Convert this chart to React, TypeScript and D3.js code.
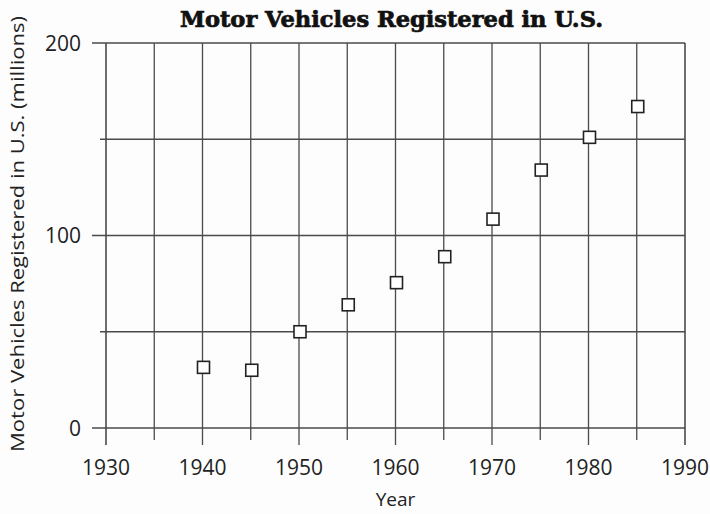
import React from "react";
import * as d3 from "d3";

const years = [1940, 1945, 1950, 1955, 1960, 1965, 1970, 1975, 1980, 1985];
const vehicles = [31.5, 30, 50, 64, 75.5, 89, 108.5, 134, 151, 167];
const xMajorTicks = [1930, 1940, 1950, 1960, 1970, 1980, 1990];
const xMinorTicks = [1935, 1945, 1955, 1965, 1975, 1985];
const yMajorTicks = [0, 100, 200];
const yMinorTicks = [50, 150];

export default function App() {
  const W = 710, H = 514;
  const left = 106, right = 685, top = 43, bottom = 428;
  const x = d3.scaleLinear().domain([1930, 1990]).range([left, right]);
  const y = d3.scaleLinear().domain([0, 200]).range([bottom, top]);
  const grid = "#4a4a4a";
  const font = "'Open Sans', 'Noto Sans', sans-serif";
  const sq = 12;
  return (
    <svg width={W} height={H} style={{ position: "absolute", left: 0, top: 0, background: "#fff" }}>
      <rect x={0} y={0} width={W} height={H} fill="#fdfdfd" />
      {/* vertical grid lines */}
      {xMinorTicks.map((t) => (
        <line key={"vm" + t} x1={x(t)} x2={x(t)} y1={top} y2={bottom + 12} stroke={grid} strokeWidth={1.3} />
      ))}
      {xMajorTicks.map((t) => (
        <line key={"vM" + t} x1={x(t)} x2={x(t)} y1={top} y2={bottom + 17} stroke={grid} strokeWidth={t === 1930 || t === 1990 ? 1.6 : 1.3} />
      ))}
      {/* horizontal grid lines */}
      {yMinorTicks.map((t) => (
        <line key={"hm" + t} x1={left - 6} x2={right} y1={y(t)} y2={y(t)} stroke={grid} strokeWidth={1.3} />
      ))}
      {yMajorTicks.map((t) => (
        <line key={"hM" + t} x1={left - 14} x2={right} y1={y(t)} y2={y(t)} stroke={grid} strokeWidth={t === 0 || t === 200 ? 1.6 : 1.3} />
      ))}
      {/* y tick labels */}
      {yMajorTicks.map((t) => (
        <text key={"yl" + t} x={81} y={y(t) + 7.5} textAnchor="end" fontFamily={font} fontSize={21} fill="#222">
          {t}
        </text>
      ))}
      {/* x tick labels */}
      {xMajorTicks.map((t) => (
        <text key={"xl" + t} x={x(t)} y={475} textAnchor="middle" fontFamily={font} fontSize={21} fill="#222">
          {t}
        </text>
      ))}
      {/* points */}
      {years.map((yr, i) => (
        <rect
          key={"p" + yr}
          x={x(yr) - sq / 2 + 1}
          y={y(vehicles[i]) - sq / 2}
          width={sq}
          height={sq}
          fill="#fff"
          stroke="#222"
          strokeWidth={1.6}
        />
      ))}
      {/* axis titles */}
      <text x={(left + right) / 2} y={506} textAnchor="middle" fontFamily={font} fontSize={19} fill="#222">
        Year
      </text>
      <text
        transform={`translate(24, 234) rotate(-90)`}
        textAnchor="middle"
        fontFamily={font}
        fontSize={19}
        textLength={436}
        lengthAdjust="spacingAndGlyphs"
        fill="#222"
      >
        Motor Vehicles Registered in U.S. (millions)
      </text>
      <text
        x={(left + right) / 2 - 4}
        y={27}
        textAnchor="middle"
        fontFamily="'DejaVu Serif', serif"
        fontWeight="bold"
        fontSize={22}
        textLength={423}
        lengthAdjust="spacingAndGlyphs"
        fill="#111"
        stroke="#111"
        strokeWidth={0.7}
      >
        Motor Vehicles Registered in U.S.
      </text>
    </svg>
  );
}
